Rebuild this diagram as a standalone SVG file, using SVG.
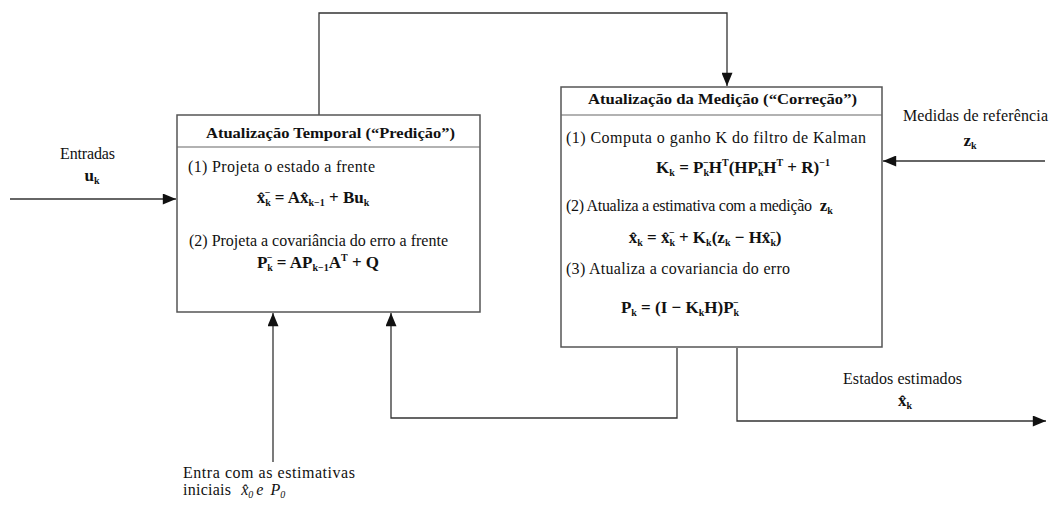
<svg xmlns="http://www.w3.org/2000/svg" width="1052" height="511" viewBox="0 0 1052 511">
<defs>
<style>
.box{fill:#fff;stroke:#555;stroke-width:1.5}
.div{stroke:#666;stroke-width:1.2}
.ln{fill:none;stroke:#333;stroke-width:1.3}
.t{font-family:"Liberation Serif","Times New Roman",serif;font-size:16px;fill:#111}
.h{font-family:"Liberation Serif","Times New Roman",serif;font-size:15px;font-weight:bold;fill:#111}
.eq{font-family:"Liberation Serif","Times New Roman",serif;font-size:17px;font-weight:bold;fill:#111}
.s{font-size:10px}
.it{font-style:italic}
</style>
<marker id="ahb" viewBox="0 0 12 10" refX="12" refY="5" markerWidth="14" markerHeight="11" markerUnits="userSpaceOnUse" orient="auto">
<path d="M0,0 L12,5 L0,10 z" fill="#111"/>
</marker>
</defs>

<g id="connectors">
<path class="ln" d="M319,115 V13 H727 V86" marker-end="url(#ahb)"/>
<path class="ln" d="M10,199 H176" marker-end="url(#ahb)"/>
<path class="ln" d="M1045,161 H883" marker-end="url(#ahb)"/>
<path class="ln" d="M273,462 V313" marker-end="url(#ahb)"/>
<path class="ln" d="M677,348 V418 H391 V313" marker-end="url(#ahb)"/>
<path class="ln" d="M737,348 V421 H1046" marker-end="url(#ahb)"/>
</g>

<g id="predicao">
<rect class="box" x="177" y="115" width="303" height="197"/>
<line class="div" x1="177" y1="147" x2="480" y2="147"/>
<text class="h" x="206" y="138" textLength="249" lengthAdjust="spacingAndGlyphs">Atualização Temporal  (“Predição”)</text>
<text class="t" x="188" y="172" textLength="187">(1) Projeta o estado a frente</text>
<text class="eq" x="313" y="203" text-anchor="middle">x̂<tspan class="s" dy="3">k</tspan><tspan class="s" dx="-6" dy="-10">−</tspan><tspan dy="7"> = Ax̂</tspan><tspan class="s" dy="3">k−1</tspan><tspan dy="-3"> + Bu</tspan><tspan class="s" dy="3">k</tspan></text>
<text class="t" x="189" y="246" textLength="259">(2) Projeta a covariância do erro a frente</text>
<text class="eq" x="318" y="268" text-anchor="middle">P<tspan class="s" dy="3">k</tspan><tspan class="s" dx="-6" dy="-10">−</tspan><tspan dy="7"> = AP</tspan><tspan class="s" dy="3">k−1</tspan><tspan dy="-3">A</tspan><tspan class="s" dy="-7">T</tspan><tspan dy="7"> + Q</tspan></text>
</g>

<g id="correcao">
<rect class="box" x="561" y="87" width="321" height="260"/>
<line class="div" x1="561" y1="115" x2="882" y2="115"/>
<text class="h" x="588" y="104" textLength="269" lengthAdjust="spacingAndGlyphs">Atualização da Medição  (“Correção”)</text>
<text class="t" x="566" y="143" textLength="300">(1) Computa o ganho K do filtro de Kalman</text>
<text class="eq" x="743" y="173" text-anchor="middle">K<tspan class="s" dy="3">k</tspan><tspan dy="-3"> = P</tspan><tspan class="s" dy="3">k</tspan><tspan class="s" dx="-6" dy="-10">−</tspan><tspan dy="7">H</tspan><tspan class="s" dy="-7">T</tspan><tspan dy="7">(HP</tspan><tspan class="s" dy="3">k</tspan><tspan class="s" dx="-6" dy="-10">−</tspan><tspan dy="7">H</tspan><tspan class="s" dy="-7">T</tspan><tspan dy="7"> + R)</tspan><tspan class="s" dy="-7">−1</tspan></text>
<text class="t" x="566" y="211"><tspan textLength="246">(2) Atualiza a estimativa com a medição</tspan><tspan class="eq" font-size="16" dx="8">z</tspan><tspan class="s" font-weight="bold" dy="3">k</tspan></text>
<text class="eq" x="705" y="243" text-anchor="middle">x̂<tspan class="s" dy="3">k</tspan><tspan dy="-3"> = x̂</tspan><tspan class="s" dy="3">k</tspan><tspan class="s" dx="-6" dy="-10">−</tspan><tspan dy="7"> + K</tspan><tspan class="s" dy="3">k</tspan><tspan dy="-3">(z</tspan><tspan class="s" dy="3">k</tspan><tspan dy="-3"> − Hx̂</tspan><tspan class="s" dy="3">k</tspan><tspan class="s" dx="-6" dy="-10">−</tspan><tspan dy="7">)</tspan></text>
<text class="t" x="566" y="274" textLength="224">(3) Atualiza a covariancia do erro</text>
<text class="eq" x="680" y="313" text-anchor="middle">P<tspan class="s" dy="3">k</tspan><tspan dy="-3"> = (I − K</tspan><tspan class="s" dy="3">k</tspan><tspan dy="-3">H)P</tspan><tspan class="s" dy="3">k</tspan><tspan class="s" dx="-6" dy="-10">−</tspan></text>
</g>

<g id="entradas">
<text class="t" x="60" y="159" textLength="55">Entradas</text>
<text class="eq" x="92" y="181" text-anchor="middle">u<tspan class="s" dy="3">k</tspan></text>
</g>

<g id="medidas">
<text class="t" x="903" y="121" textLength="145">Medidas de referência</text>
<text class="eq" x="970" y="146" text-anchor="middle">z<tspan class="s" dy="3">k</tspan></text>
</g>

<g id="estados">
<text class="t" x="843" y="384" textLength="119">Estados estimados</text>
<text class="eq" x="905" y="406" text-anchor="middle">x̂<tspan class="s" dy="3">k</tspan></text>
</g>

<g id="iniciais">
<text class="t" x="183" y="478" textLength="172">Entra com as estimativas</text>
<text class="t" x="183" y="495"><tspan textLength="48">iniciais</tspan><tspan class="it" dx="10">x̂</tspan><tspan class="s it" dy="3">0</tspan><tspan class="it" dy="-3" dx="3">e</tspan><tspan class="it" dx="7">P</tspan><tspan class="s it" dy="3">0</tspan></text>
</g>
</svg>
